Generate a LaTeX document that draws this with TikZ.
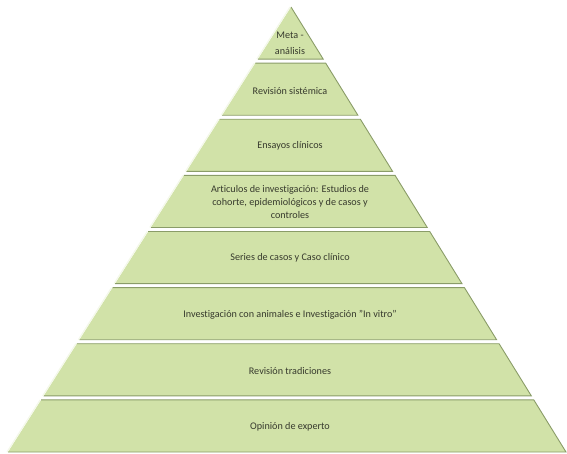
\documentclass[tikz,border=0pt]{standalone}
\usepackage{fontspec}
\setmainfont{Carlito}[Ligatures={NoCommon,TeX}]
\usepackage{tikz}
\usetikzlibrary{calc}

\definecolor{pyrfill}{RGB}{209,226,168}
\definecolor{pyrdark}{RGB}{138,156,104}
\definecolor{pyrlight}{RGB}{244,248,234}
\definecolor{pyrtext}{RGB}{55,58,45}
\newcommand{\sq}{\symbol{34}}

\begin{document}
\begin{tikzpicture}[
  x=1bp, y=-1bp,
  font=\fontsize{10.2}{12.7}\selectfont,
  level/.style={fill=pyrfill},
  shade line/.style={draw=pyrdark, line width=0.9bp},
  light line/.style={draw=pyrlight, line width=1.2bp},
  label/.style={text=pyrtext, align=center, inner sep=0pt}]
  \useasboundingbox (0,0) rectangle (567,454);
  \coordinate (apex) at (291,7);
  \coordinate (lbase) at (8,452);
  \coordinate (rbase) at (566,452);
  % pyramid levels, top to bottom
  \foreach \i/\ty/\txt in {0/43/{Meta -\\[3pt]análisis},
      1/91/{Revisión sistémica},
      2/146/{Ensayos clínicos},
      3/202/{Articulos de investigación: Estudios de\\cohorte, epidemiológicos y de casos y\\controles},
      4/258/{Series de casos y Caso clínico},
      5/315/{Investigación con animales e Investigación \sq In vitro\sq},
      6/371/{Revisión tradiciones},
      7/427/{Opinión de experto}} {
    \pgfmathsetmacro{\ta}{\i*56.125/445}
    \pgfmathsetmacro{\tb}{(\i*56.125+52.125)/445}
    \coordinate (tl\i) at ($(apex)!\ta!(lbase)$);
    \coordinate (bl\i) at ($(apex)!\tb!(lbase)$);
    \coordinate (br\i) at ($(apex)!\tb!(rbase)$);
    \coordinate (tr\i) at ($(apex)!\ta!(rbase)$);
    \fill[level] (tl\i) -- (bl\i) -- (br\i) -- (tr\i) -- cycle;
    \draw[shade line] (bl\i) -- (br\i) -- (tr\i) -- (tl\i);
    \draw[light line] ([xshift=-1bp]tl\i) -- ([xshift=-1bp]bl\i);
    \node[label] (lvl\i) at (290,\ty) {\txt};
  }
\end{tikzpicture}
\end{document}
